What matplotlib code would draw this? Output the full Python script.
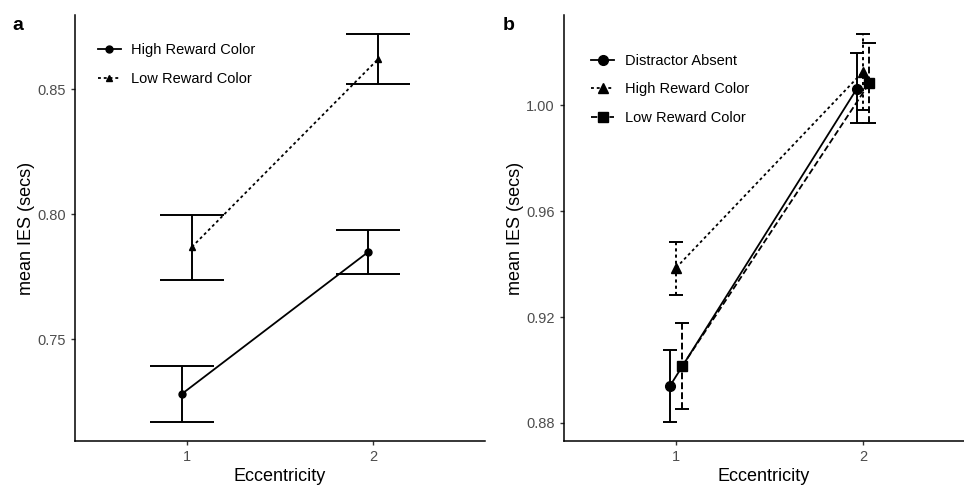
import matplotlib.pyplot as plt
import numpy as np

plt.rcParams['font.family'] = ['Liberation Sans', 'DejaVu Sans']

# panel a
ecc = [1, 2]
a_labels = ["High Reward Color", "Low Reward Color"]
a_mean = [[0.728, 0.7848], [0.7868, 0.862]]
a_lo = [[0.7168, 0.776], [0.7736, 0.852]]
a_hi = [[0.7392, 0.7936], [0.7996, 0.872]]

# panel b
b_labels = ["Distractor Absent", "High Reward Color", "Low Reward Color"]
b_mean = [[0.894, 1.0062], [0.9386, 1.0126], [0.9015, 1.0082]]
b_lo = [[0.8804, 0.9931], [0.9282, 0.998], [0.8854, 0.9931]]
b_hi = [[0.9075, 1.0196], [0.9482, 1.0268], [0.9176, 1.0233]]

fig = plt.figure(figsize=(9.64, 4.86), dpi=100)
axa = fig.add_axes([75 / 964, 45 / 486, 410 / 964, 426 / 486])
axb = fig.add_axes([564 / 964, 45 / 486, 400 / 964, 426 / 486])

tick_col = '#4d4d4d'
dotted = (0, (1.6, 1.6))
dashed = (0, (3.5, 1.6))


def style(ax):
    for s in ['top', 'right']:
        ax.spines[s].set_visible(False)
    for s in ['left', 'bottom']:
        ax.spines[s].set_linewidth(1.1)
        ax.spines[s].set_color('black')
    ax.tick_params(colors='#333333', labelcolor=tick_col, labelsize=10.5, length=3, width=1)
    ax.set_xticks([1, 2])
    ax.set_xlabel("Eccentricity", fontsize=13, labelpad=3)
    ax.set_ylabel("mean IES (secs)", fontsize=13, labelpad=2)


# ---- a ----
styles_a = ['-', dotted]
markers_a = ['o', '^']
dodge_a = [-0.027, 0.027]
for i in range(2):
    x = np.array(ecc) + dodge_a[i]
    m = np.array(a_mean[i])
    err = [m - np.array(a_lo[i]), np.array(a_hi[i]) - m]
    axa.errorbar(x, m, yerr=err, fmt='none', ecolor='black', elinewidth=1.4,
                 capsize=23, capthick=1.4)
    axa.plot(x, m, color='black', ls=styles_a[i], lw=1.3, marker=markers_a[i],
             ms=5, label=a_labels[i])
style(axa)
axa.set_xlim(0.4, 2.6)
axa.set_ylim(0.7092, 0.8796)
axa.set_yticks([0.75, 0.80, 0.85])
axa.set_yticklabels(["0.75", "0.80", "0.85"])
axa.legend(loc='upper left', bbox_to_anchor=(0.023, 0.965), frameon=False, fontsize=10.5,
           handlelength=1.6, handletextpad=0.7, labelspacing=1.0)

# ---- b ----
styles_b = ['-', dotted, dashed]
markers_b = ['o', '^', 's']
dodge_b = [-0.033, 0.0, 0.033]
for i in range(3):
    x = np.array(ecc) + dodge_b[i]
    m = np.array(b_mean[i])
    err = [m - np.array(b_lo[i]), np.array(b_hi[i]) - m]
    eb = axb.errorbar(x, m, yerr=err, fmt='none', ecolor='black', elinewidth=1.4,
                      capsize=5, capthick=1.4)
    eb[2][0].set_linestyle(styles_b[i])
    axb.plot(x, m, color='black', ls=styles_b[i], lw=1.3, marker=markers_b[i],
             ms=7, label=b_labels[i])
style(axb)
axb.set_xlim(0.4, 2.54)
axb.set_ylim(0.8732, 1.034)
axb.set_yticks([0.88, 0.92, 0.96, 1.00])
axb.set_yticklabels(["0.88", "0.92", "0.96", "1.00"])
axb.legend(loc='upper left', bbox_to_anchor=(0.035, 0.94), frameon=False, fontsize=10.5,
           handlelength=1.6, handletextpad=0.7, labelspacing=1.0)

fig.text(12 / 964, 1 - 26 / 486, "a", fontsize=14, fontweight='bold', va='center')
fig.text(503 / 964, 1 - 26 / 486, "b", fontsize=14, fontweight='bold', va='center')

fig.savefig("out.png", dpi=100)
